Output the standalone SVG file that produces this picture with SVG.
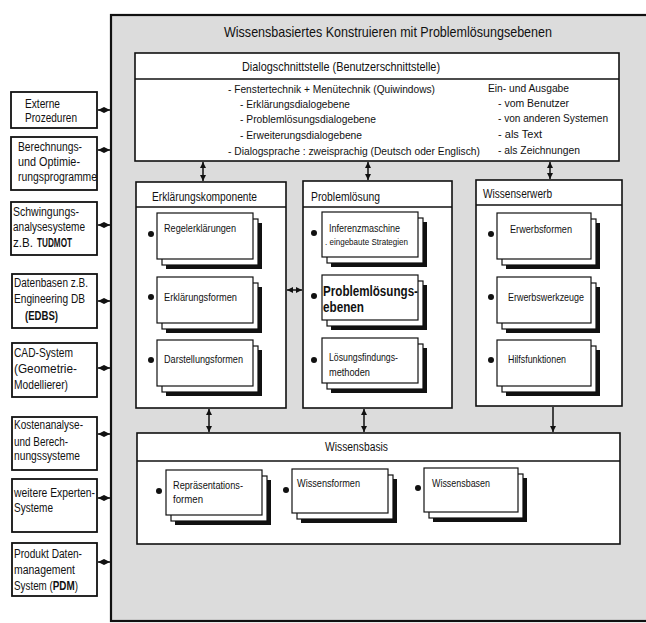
<svg xmlns="http://www.w3.org/2000/svg" width="646" height="623" viewBox="0 0 646 623">
<style>
text{font-family:"Liberation Sans Narrow","Liberation Sans",Arial,sans-serif;fill:#111}
.f13{font-size:13px}.f12{font-size:12px}.f115{font-size:11.5px}.f10{font-size:10.5px}.f15{font-size:15px}
.b{font-weight:bold}
.box{fill:#fff;stroke:#111;stroke-width:1.6}
.lbox{fill:#fff;stroke:#111;stroke-width:1.8}
.div{stroke:#111;stroke-width:1.4}
.cs{fill:#111}
.cb{fill:#fff;stroke:#111;stroke-width:1.2}
.dot{fill:#111}
.con{stroke:#111;stroke-width:1.5;fill:none}
</style>
<defs>
<marker id="ah" viewBox="0 0 10 10" refX="10" refY="5" markerWidth="6" markerHeight="6" markerUnits="userSpaceOnUse" orient="auto-start-reverse"><path d="M0,0 L10,5 L0,10 z" fill="#111"/></marker>
</defs>
<rect width="646" height="623" fill="#fff"/>
<g id="main">
<rect x="111" y="15" width="545" height="606" fill="#dcdcdc" stroke="#111" stroke-width="2.2"/>
<text class="f15" x="224" y="37" textLength="328" lengthAdjust="spacingAndGlyphs">Wissensbasiertes Konstruieren mit Problemlösungsebenen</text>
</g>
<g id="dialog">
<rect class="box" x="135" y="53" width="484" height="108"/>
<line class="div" x1="135" y1="79" x2="619" y2="79"/>
<text class="f13" x="242" y="71" textLength="198" lengthAdjust="spacingAndGlyphs">Dialogschnittstelle (Benutzerschnittstelle)</text>
<text class="f115" x="228" y="93" textLength="207" lengthAdjust="spacingAndGlyphs">- Fenstertechnik + Menütechnik (Quiwindows)</text>
<text class="f115" x="240" y="108" textLength="110" lengthAdjust="spacingAndGlyphs">- Erklärungsdialogebene</text>
<text class="f115" x="240" y="123" textLength="136" lengthAdjust="spacingAndGlyphs">- Problemlösungsdialogebene</text>
<text class="f115" x="240" y="139" textLength="122" lengthAdjust="spacingAndGlyphs">- Erweiterungsdialogebene</text>
<text class="f115" transform="translate(228,155) scale(0.84,1)" x="0" y="0" textLength="300" lengthAdjust="spacingAndGlyphs">- Dialogsprache : zweisprachig (Deutsch oder Englisch)</text>
<text class="f115" x="488" y="92" textLength="81" lengthAdjust="spacingAndGlyphs">Ein- und Ausgabe</text>
<text class="f115" x="498" y="107" textLength="71" lengthAdjust="spacingAndGlyphs">- vom Benutzer</text>
<text class="f115" x="498" y="122" textLength="110" lengthAdjust="spacingAndGlyphs">- von anderen Systemen</text>
<text class="f115" x="498" y="138" textLength="44" lengthAdjust="spacingAndGlyphs">- als Text</text>
<text class="f115" x="498" y="154" textLength="82" lengthAdjust="spacingAndGlyphs">- als Zeichnungen</text>
</g>
<g id="erklaerung">
<rect class="box" x="136" y="182" width="150" height="226"/>
<line class="div" x1="136" y1="207" x2="286" y2="207"/>
<text class="f12" x="152" y="201" textLength="105" lengthAdjust="spacingAndGlyphs">Erklärungskomponente</text>
<rect class="cs" x="166" y="223" width="96" height="46"/><rect class="cb" x="162" y="219" width="96" height="46"/><rect class="cb" x="157" y="213" width="96" height="46"/>
<circle class="dot" cx="151" cy="234" r="3"/>
<text class="f10" x="164" y="232" textLength="72" lengthAdjust="spacingAndGlyphs">Regelerklärungen</text>
<rect class="cs" x="166" y="287" width="96" height="46"/><rect class="cb" x="162" y="283" width="96" height="46"/><rect class="cb" x="157" y="277" width="96" height="46"/>
<circle class="dot" cx="151" cy="297" r="3"/>
<text class="f10" x="164" y="301" textLength="73" lengthAdjust="spacingAndGlyphs">Erklärungsformen</text>
<rect class="cs" x="166" y="350" width="96" height="46"/><rect class="cb" x="162" y="346" width="96" height="46"/><rect class="cb" x="157" y="340" width="96" height="46"/>
<circle class="dot" cx="151" cy="360" r="3"/>
<text class="f10" x="164" y="363" textLength="79" lengthAdjust="spacingAndGlyphs">Darstellungsformen</text>
</g>
<g id="problemloesung">
<rect class="box" x="303" y="181" width="149" height="227"/>
<line class="div" x1="303" y1="207" x2="452" y2="207"/>
<text class="f12" x="311" y="201" textLength="69" lengthAdjust="spacingAndGlyphs">Problemlösung</text>
<rect class="cs" x="331" y="222" width="96" height="45"/><rect class="cb" x="327" y="218" width="96" height="45"/><rect class="cb" x="322" y="212" width="96" height="45"/>
<circle class="dot" cx="314" cy="233" r="3"/>
<text class="f10" x="329" y="232" textLength="71" lengthAdjust="spacingAndGlyphs">Inferenzmaschine</text>
<text style="font-size:8.5px" x="325" y="245" textLength="83" lengthAdjust="spacingAndGlyphs">. eingebaute Strategien</text>
<rect class="cs" x="331" y="285" width="96" height="45"/><rect class="cb" x="327" y="281" width="96" height="45"/><rect class="cb" x="322" y="275" width="96" height="45"/>
<circle class="dot" cx="314" cy="296" r="3"/>
<text class="b" style="font-size:14px" x="323" y="296" textLength="95" lengthAdjust="spacingAndGlyphs">Problemlösungs-</text>
<text class="b" style="font-size:14px" x="323" y="312" textLength="41" lengthAdjust="spacingAndGlyphs">ebenen</text>
<rect class="cs" x="331" y="348" width="96" height="45"/><rect class="cb" x="327" y="344" width="96" height="45"/><rect class="cb" x="322" y="338" width="96" height="45"/>
<circle class="dot" cx="314" cy="360" r="3"/>
<text class="f10" x="329" y="361" textLength="69" lengthAdjust="spacingAndGlyphs">Lösungsfindungs-</text>
<text class="f10" x="329" y="376" textLength="41" lengthAdjust="spacingAndGlyphs">methoden</text>
</g>
<g id="wissenserwerb">
<rect class="box" x="476" y="180" width="146" height="226"/>
<line class="div" x1="476" y1="205" x2="622" y2="205"/>
<text class="f12" x="483" y="198" textLength="69" lengthAdjust="spacingAndGlyphs">Wissenserwerb</text>
<rect class="cs" x="506" y="223" width="94" height="46"/><rect class="cb" x="502" y="219" width="94" height="46"/><rect class="cb" x="497" y="213" width="94" height="46"/>
<circle class="dot" cx="491" cy="234" r="3"/>
<text class="f10" x="510" y="233" textLength="62" lengthAdjust="spacingAndGlyphs">Erwerbsformen</text>
<rect class="cs" x="506" y="287" width="94" height="46"/><rect class="cb" x="502" y="283" width="94" height="46"/><rect class="cb" x="497" y="277" width="94" height="46"/>
<circle class="dot" cx="491" cy="297" r="3"/>
<text class="f10" x="508" y="301" textLength="76" lengthAdjust="spacingAndGlyphs">Erwerbswerkzeuge</text>
<rect class="cs" x="506" y="350" width="94" height="46"/><rect class="cb" x="502" y="346" width="94" height="46"/><rect class="cb" x="497" y="340" width="94" height="46"/>
<circle class="dot" cx="491" cy="360" r="3"/>
<text class="f10" x="508" y="363" textLength="58" lengthAdjust="spacingAndGlyphs">Hilfsfunktionen</text>
</g>
<g id="wissensbasis">
<rect class="box" x="137" y="433" width="483" height="111"/>
<line class="div" x1="137" y1="461" x2="620" y2="461"/>
<text class="f12" x="325" y="451" textLength="63" lengthAdjust="spacingAndGlyphs">Wissensbasis</text>
<rect class="cs" x="175" y="480" width="96" height="45"/><rect class="cb" x="171" y="476" width="96" height="45"/><rect class="cb" x="166" y="470" width="96" height="45"/>
<circle class="dot" cx="159" cy="491" r="3"/>
<text class="f10" x="173" y="489" textLength="70" lengthAdjust="spacingAndGlyphs">Repräsentations-</text>
<text class="f10" x="173" y="503" textLength="30" lengthAdjust="spacingAndGlyphs">formen</text>
<rect class="cs" x="301" y="479" width="96" height="44"/><rect class="cb" x="297" y="475" width="96" height="44"/><rect class="cb" x="292" y="469" width="96" height="44"/>
<circle class="dot" cx="286" cy="490" r="3"/>
<text class="f10" x="297" y="487" textLength="63" lengthAdjust="spacingAndGlyphs">Wissensformen</text>
<rect class="cs" x="433" y="478" width="94" height="44"/><rect class="cb" x="429" y="474" width="94" height="44"/><rect class="cb" x="424" y="468" width="94" height="44"/>
<circle class="dot" cx="418" cy="488" r="3"/>
<text class="f10" x="432" y="487" textLength="58" lengthAdjust="spacingAndGlyphs">Wissensbasen</text>
</g>
<g id="ext1"><rect class="lbox" x="11" y="92" width="86" height="36"/>
<text class="f12" x="25" y="108" textLength="35" lengthAdjust="spacingAndGlyphs">Externe</text>
<text class="f12" x="25" y="122" textLength="52" lengthAdjust="spacingAndGlyphs">Prozeduren</text></g>
<g id="ext2"><rect class="lbox" x="11" y="137" width="86" height="53"/>
<text class="f12" x="18" y="151" textLength="64" lengthAdjust="spacingAndGlyphs">Berechnungs-</text>
<text class="f12" x="18" y="166" textLength="62" lengthAdjust="spacingAndGlyphs">und Optimie-</text>
<text class="f12" x="18" y="181" textLength="79" lengthAdjust="spacingAndGlyphs">rungsprogramme</text></g>
<g id="ext3"><rect class="lbox" x="11" y="202" width="86" height="53"/>
<text class="f12" x="13" y="216" textLength="66" lengthAdjust="spacingAndGlyphs">Schwingungs-</text>
<text class="f12" x="13" y="231" textLength="72" lengthAdjust="spacingAndGlyphs">analysesysteme</text>
<text class="f12" x="13" y="247" textLength="20" lengthAdjust="spacingAndGlyphs">z.B.</text>
<text class="f12 b" x="37" y="247" textLength="35" lengthAdjust="spacingAndGlyphs">TUDMOT</text></g>
<g id="ext4"><rect class="lbox" x="12" y="274" width="85" height="54"/>
<text class="f12" x="14" y="287" textLength="74" lengthAdjust="spacingAndGlyphs">Datenbasen z.B.</text>
<text class="f12" x="14" y="303" textLength="71" lengthAdjust="spacingAndGlyphs">Engineering DB</text>
<text class="f12 b" x="25" y="320" textLength="33" lengthAdjust="spacingAndGlyphs">(EDBS)</text></g>
<g id="ext5"><rect class="lbox" x="12" y="343" width="85" height="54"/>
<text class="f12" x="14" y="357" textLength="59" lengthAdjust="spacingAndGlyphs">CAD-System</text>
<text class="f12" x="14" y="373" textLength="63" lengthAdjust="spacingAndGlyphs">(Geometrie-</text>
<text class="f12" x="14" y="389" textLength="54" lengthAdjust="spacingAndGlyphs">Modellierer)</text></g>
<g id="ext6"><rect class="lbox" x="12" y="417" width="85" height="53"/>
<text class="f12" x="14" y="429" textLength="69" lengthAdjust="spacingAndGlyphs">Kostenanalyse-</text>
<text class="f12" x="14" y="446" textLength="54" lengthAdjust="spacingAndGlyphs">und Berech-</text>
<text class="f12" x="14" y="460" textLength="66" lengthAdjust="spacingAndGlyphs">nungssysteme</text></g>
<g id="ext7"><rect class="lbox" x="12" y="479" width="85" height="53"/>
<text class="f12" x="14" y="497" textLength="81" lengthAdjust="spacingAndGlyphs">weitere Experten-</text>
<text class="f12" x="14" y="512" textLength="39" lengthAdjust="spacingAndGlyphs">Systeme</text></g>
<g id="ext8"><rect class="lbox" x="12" y="543" width="85" height="53"/>
<text class="f12" x="14" y="558" textLength="68" lengthAdjust="spacingAndGlyphs">Produkt Daten-</text>
<text class="f12" x="14" y="574" textLength="61" lengthAdjust="spacingAndGlyphs">management</text>
<text class="f12" transform="translate(14,590) scale(0.82,1)" x="0" y="0">System (<tspan class="b">PDM</tspan>)</text></g>
<g id="connectors">
<line class="con" x1="203" y1="162" x2="203" y2="181" marker-start="url(#ah)" marker-end="url(#ah)"/>
<line class="con" x1="368" y1="162" x2="368" y2="180" marker-start="url(#ah)" marker-end="url(#ah)"/>
<line class="con" x1="550" y1="162" x2="550" y2="179" marker-start="url(#ah)" marker-end="url(#ah)"/>
<line class="con" x1="287" y1="290" x2="302" y2="290" marker-start="url(#ah)" marker-end="url(#ah)"/>
<line class="con" x1="209" y1="409" x2="209" y2="432" marker-start="url(#ah)" marker-end="url(#ah)"/>
<line class="con" x1="364" y1="409" x2="364" y2="432" marker-start="url(#ah)" marker-end="url(#ah)"/>
<line class="con" x1="553" y1="407" x2="553" y2="432" marker-end="url(#ah)"/>
<line class="con" x1="98" y1="110" x2="110" y2="110" marker-start="url(#ah)" marker-end="url(#ah)"/>
<line class="con" x1="98" y1="150" x2="110" y2="150" marker-start="url(#ah)" marker-end="url(#ah)"/>
<line class="con" x1="98" y1="225" x2="110" y2="225" marker-start="url(#ah)" marker-end="url(#ah)"/>
<line class="con" x1="98" y1="301" x2="110" y2="301" marker-start="url(#ah)" marker-end="url(#ah)"/>
<line class="con" x1="98" y1="368" x2="110" y2="368" marker-start="url(#ah)" marker-end="url(#ah)"/>
<line class="con" x1="98" y1="434" x2="110" y2="434" marker-start="url(#ah)" marker-end="url(#ah)"/>
<line class="con" x1="98" y1="498" x2="110" y2="498" marker-start="url(#ah)" marker-end="url(#ah)"/>
<line class="con" x1="98" y1="562" x2="110" y2="562" marker-start="url(#ah)" marker-end="url(#ah)"/>
</g>
</svg>
